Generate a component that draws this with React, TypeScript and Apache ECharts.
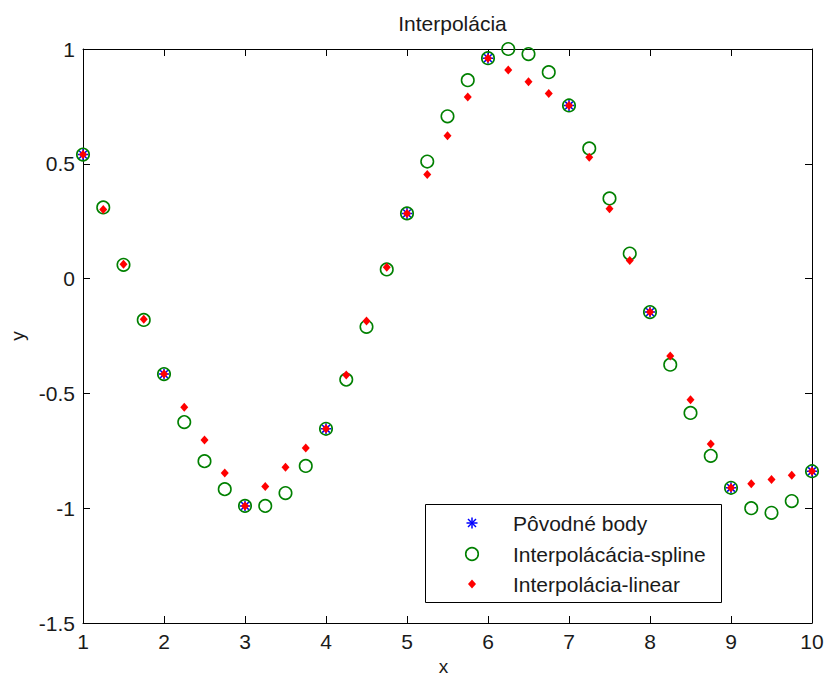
import React, { useEffect, useRef } from "react";
import * as echarts from "echarts";

const originalX = [1, 2, 3, 4, 5, 6, 7, 8, 9, 10];
const originalY = [0.54, -0.416, -0.99, -0.654, 0.284, 0.96, 0.754, -0.146, -0.911, -0.839];

const fineX = [
  1, 1.25, 1.5, 1.75, 2, 2.25, 2.5, 2.75, 3, 3.25, 3.5, 3.75, 4, 4.25, 4.5, 4.75, 5, 5.25, 5.5,
  5.75, 6, 6.25, 6.5, 6.75, 7, 7.25, 7.5, 7.75, 8, 8.25, 8.5, 8.75, 9, 9.25, 9.5, 9.75, 10,
];
const splineY = [
  0.54, 0.31, 0.06, -0.18, -0.416, -0.625, -0.795, -0.917, -0.99, -0.99, -0.934, -0.816, -0.654,
  -0.44, -0.21, 0.04, 0.284, 0.51, 0.707, 0.864, 0.96, 1.0, 0.978, 0.899, 0.754, 0.567, 0.349,
  0.109, -0.146, -0.375, -0.585, -0.772, -0.911, -1.0, -1.02, -0.969, -0.839,
];
const linearY = [
  0.54, 0.301, 0.062, -0.177, -0.416, -0.56, -0.703, -0.847, -0.99, -0.906, -0.822, -0.738,
  -0.654, -0.42, -0.185, 0.049, 0.284, 0.453, 0.622, 0.791, 0.96, 0.909, 0.857, 0.806, 0.754,
  0.529, 0.304, 0.079, -0.146, -0.337, -0.528, -0.72, -0.911, -0.893, -0.875, -0.857, -0.839,
];

const titleText = "Interpolácia";
const legendNames = ["Pôvodné body", "Interpolácácia-spline", "Interpolácia-linear"];

const FONT = "'Liberation Sans', Arial, Helvetica, sans-serif";
const TEXT = "#1a1a1a";
const STAR = "path://M5,0L5,10M0,5L10,5M1.5,1.5L8.5,8.5M1.5,8.5L8.5,1.5";

export default function App() {
  const ref = useRef<HTMLDivElement>(null);
  useEffect(() => {
    if (!ref.current) return;
    const chart = echarts.init(ref.current, undefined, { renderer: "svg" });
    const axisCommon = {
      type: "value" as const,
      axisLine: { show: true, onZero: false, lineStyle: { color: "#000", width: 1 } },
      axisTick: { show: true, inside: true, length: 7, lineStyle: { color: "#000", width: 1 } },
      splitLine: { show: false },
    };
    const labelStyle = { fontSize: 21, color: TEXT, fontFamily: FONT };
    const lx = 472;
    const rows = [523, 554, 584];
    chart.setOption({
      animation: false,
      backgroundColor: "#fff",
      title: {
        text: titleText,
        left: 447.5,
        top: 8,
        textAlign: "center",
        textStyle: { fontSize: 21, fontWeight: "normal", color: TEXT, fontFamily: FONT },
      },
      grid: {
        left: 83,
        right: 13,
        top: 49,
        bottom: 54,
        containLabel: false,
        outerBoundsMode: "none",
      },
      xAxis: [
        {
          ...axisCommon,
          position: "bottom",
          min: 1,
          max: 10,
          interval: 1,
          axisLabel: { ...labelStyle, margin: 8, showMinLabel: true, showMaxLabel: true },
          name: "x",
          nameLocation: "middle",
          nameGap: 35,
          nameTextStyle: {
            fontSize: 19,
            color: TEXT,
            fontFamily: FONT,
            lineHeight: 16,
            padding: [0, 8, 0, 0],
          },
        },
        {
          ...axisCommon,
          position: "top",
          min: 1,
          max: 10,
          interval: 1,
          axisLabel: { show: false },
        },
      ],
      yAxis: [
        {
          ...axisCommon,
          position: "left",
          min: -1.5,
          max: 1,
          interval: 0.5,
          axisLabel: { ...labelStyle, margin: 8, showMinLabel: true, showMaxLabel: true },
          name: "y",
          nameLocation: "middle",
          nameGap: 56,
          nameTextStyle: { fontSize: 19, color: TEXT, fontFamily: FONT },
        },
        {
          ...axisCommon,
          position: "right",
          min: -1.5,
          max: 1,
          interval: 0.5,
          axisLabel: { show: false },
        },
      ],
      series: [
        {
          name: legendNames[0],
          type: "scatter",
          data: originalX.map((x, i) => [x, originalY[i]]),
          symbol: STAR,
          symbolSize: 11,
          itemStyle: { color: "none", borderColor: "#0000ff", borderWidth: 1.5, opacity: 1 },
          emphasis: { disabled: true },
        },
        {
          name: legendNames[1],
          type: "scatter",
          data: fineX.map((x, i) => [x, splineY[i]]),
          symbol: "circle",
          symbolSize: 12.5,
          itemStyle: { color: "rgba(0,0,0,0)", borderColor: "#008000", borderWidth: 1.6, opacity: 1 },
          emphasis: { disabled: true },
        },
        {
          name: legendNames[2],
          type: "scatter",
          data: fineX.map((x, i) => [x, linearY[i]]),
          symbol: "diamond",
          symbolSize: [8, 9],
          itemStyle: { color: "#ff0000", opacity: 1 },
          emphasis: { disabled: true },
        },
      ],
      graphic: [
        {
          type: "group",
          z: 100,
          children: [
            {
              type: "rect",
              shape: { x: 425.5, y: 504.5, width: 296, height: 98 },
              style: { fill: "#fff", stroke: "#000", lineWidth: 1 },
            },
            {
              type: "line",
              shape: { x1: lx, y1: rows[0] - 5.5, x2: lx, y2: rows[0] + 5.5 },
              style: { stroke: "#0000ff", lineWidth: 1.5 },
            },
            {
              type: "line",
              shape: { x1: lx - 5.5, y1: rows[0], x2: lx + 5.5, y2: rows[0] },
              style: { stroke: "#0000ff", lineWidth: 1.5 },
            },
            {
              type: "line",
              shape: { x1: lx - 4, y1: rows[0] - 4, x2: lx + 4, y2: rows[0] + 4 },
              style: { stroke: "#0000ff", lineWidth: 1.5 },
            },
            {
              type: "line",
              shape: { x1: lx - 4, y1: rows[0] + 4, x2: lx + 4, y2: rows[0] - 4 },
              style: { stroke: "#0000ff", lineWidth: 1.5 },
            },
            {
              type: "circle",
              shape: { cx: lx, cy: rows[1], r: 6.3 },
              style: { fill: "none", stroke: "#008000", lineWidth: 1.6 },
            },
            {
              type: "polygon",
              shape: {
                points: [
                  [lx, rows[2] - 4.5],
                  [lx + 4, rows[2]],
                  [lx, rows[2] + 4.5],
                  [lx - 4, rows[2]],
                ],
              },
              style: { fill: "#ff0000" },
            },
            ...legendNames.map((t, i) => ({
              type: "text",
              x: 513,
              y: rows[i],
              style: {
                text: t,
                fontSize: 21,
                fontFamily: FONT,
                fill: TEXT,
                verticalAlign: "middle",
                align: "left",
              },
            })),
          ],
        },
      ],
    });
    return () => chart.dispose();
  }, []);
  return (
    <div
      ref={ref}
      style={{ position: "absolute", left: 0, top: 0, width: 825, height: 677, background: "#fff" }}
    />
  );
}
